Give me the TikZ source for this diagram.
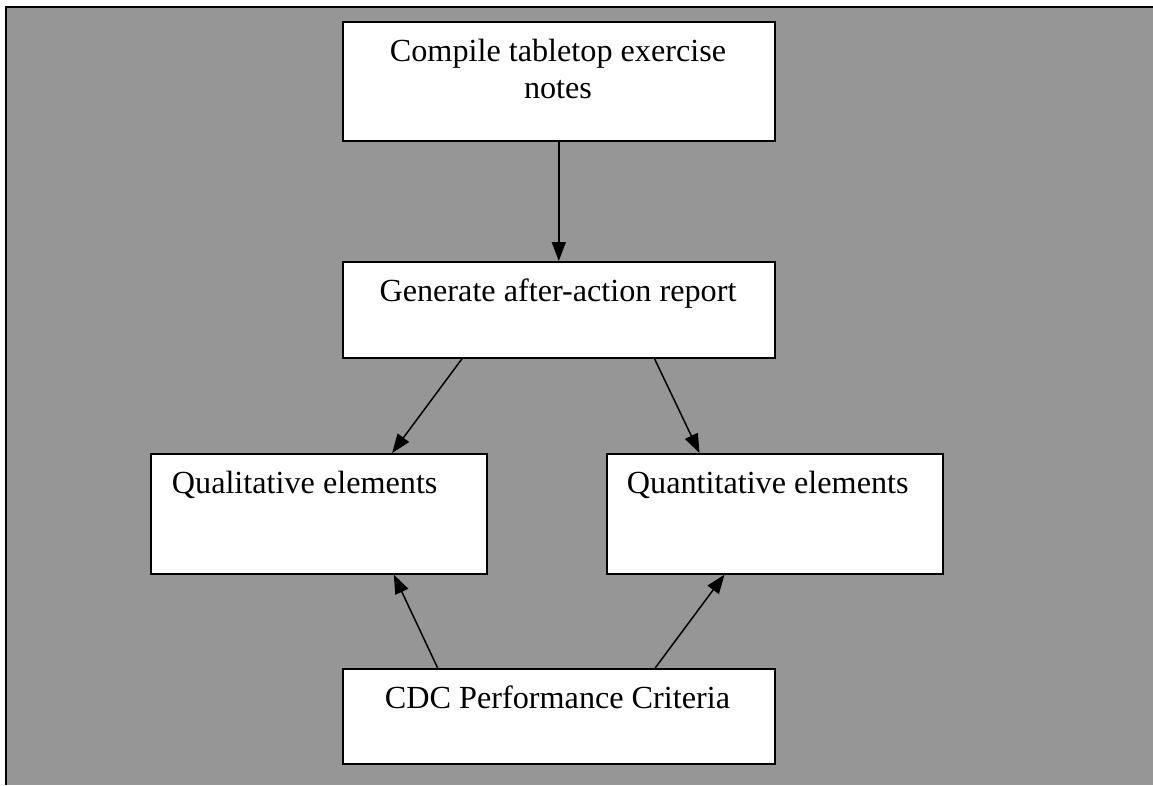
\documentclass[tikz,border=0pt]{standalone}
\usepackage{fontspec}
\setmainfont{Liberation Serif}
\usetikzlibrary{arrows.meta,calc}
\definecolor{panelgray}{RGB}{150,150,150}
\tikzset{
  box/.style={draw=black, line width=1.6pt, fill=white, inner sep=0pt, anchor=north west},
  lbl/.style={font=\fontsize{32.2}{36.6}\selectfont, inner sep=0pt, anchor=base},
  flow/.style={line width=1.5pt, -{Triangle[length=19pt,width=14pt]}},
}
\begin{document}
\begin{tikzpicture}[x=1pt,y=-1pt]
\useasboundingbox (0,0) rectangle (1153,785);
% gray panel with its top and left rules
\fill[panelgray] (6,7) rectangle (1153,785);
\draw[line width=1.8pt] (5,7) -- (1153,7);
\draw[line width=2.2pt] (6,7) -- (6,785);

% boxes
\node[box, minimum width=432pt, minimum height=119pt] (notes)  at (342,21)  {};
\node[box, minimum width=432pt, minimum height=96pt]  (report) at (342,261) {};
\node[box, minimum width=336pt, minimum height=120pt] (qual)   at (150,453) {};
\node[box, minimum width=336pt, minimum height=120pt] (quant)  at (606,453) {};
\node[box, minimum width=432pt, minimum height=95pt]  (cdc)    at (342,668) {};

% labels
\node[lbl] (notesA)  at (558,61.7)  {Compile tabletop exercise};
\node[lbl] (notesB)  at (558,98.3)  {notes};
\node[lbl] (reportT) at (558,301.7) {Generate after-action report};
\node[lbl, anchor=base west] (qualT)  at (171.7,493) {Qualitative elements};
\node[lbl, anchor=base west] (quantT) at (626.7,493) {Quantitative elements};
\node[lbl] (cdcT)    at (557.5,708.3) {CDC Performance Criteria};

% connectors
\draw[flow] (notes.south) -- (report.north);
\draw[flow] ($(report.south west)!0.277!(report.south east)$) -- ($(qual.north west)!0.717!(qual.north east)$);
\draw[flow] ($(report.south west)!0.7206!(report.south east)$) -- ($(quant.north west)!0.277!(quant.north east)$);
\draw[flow] ($(cdc.north west)!0.2206!(cdc.north east)$) -- ($(qual.south west)!0.722!(qual.south east)$);
\draw[flow] ($(cdc.north west)!0.7222!(cdc.north east)$) -- ($(quant.south west)!0.351!(quant.south east)$);
\end{tikzpicture}
\end{document}
